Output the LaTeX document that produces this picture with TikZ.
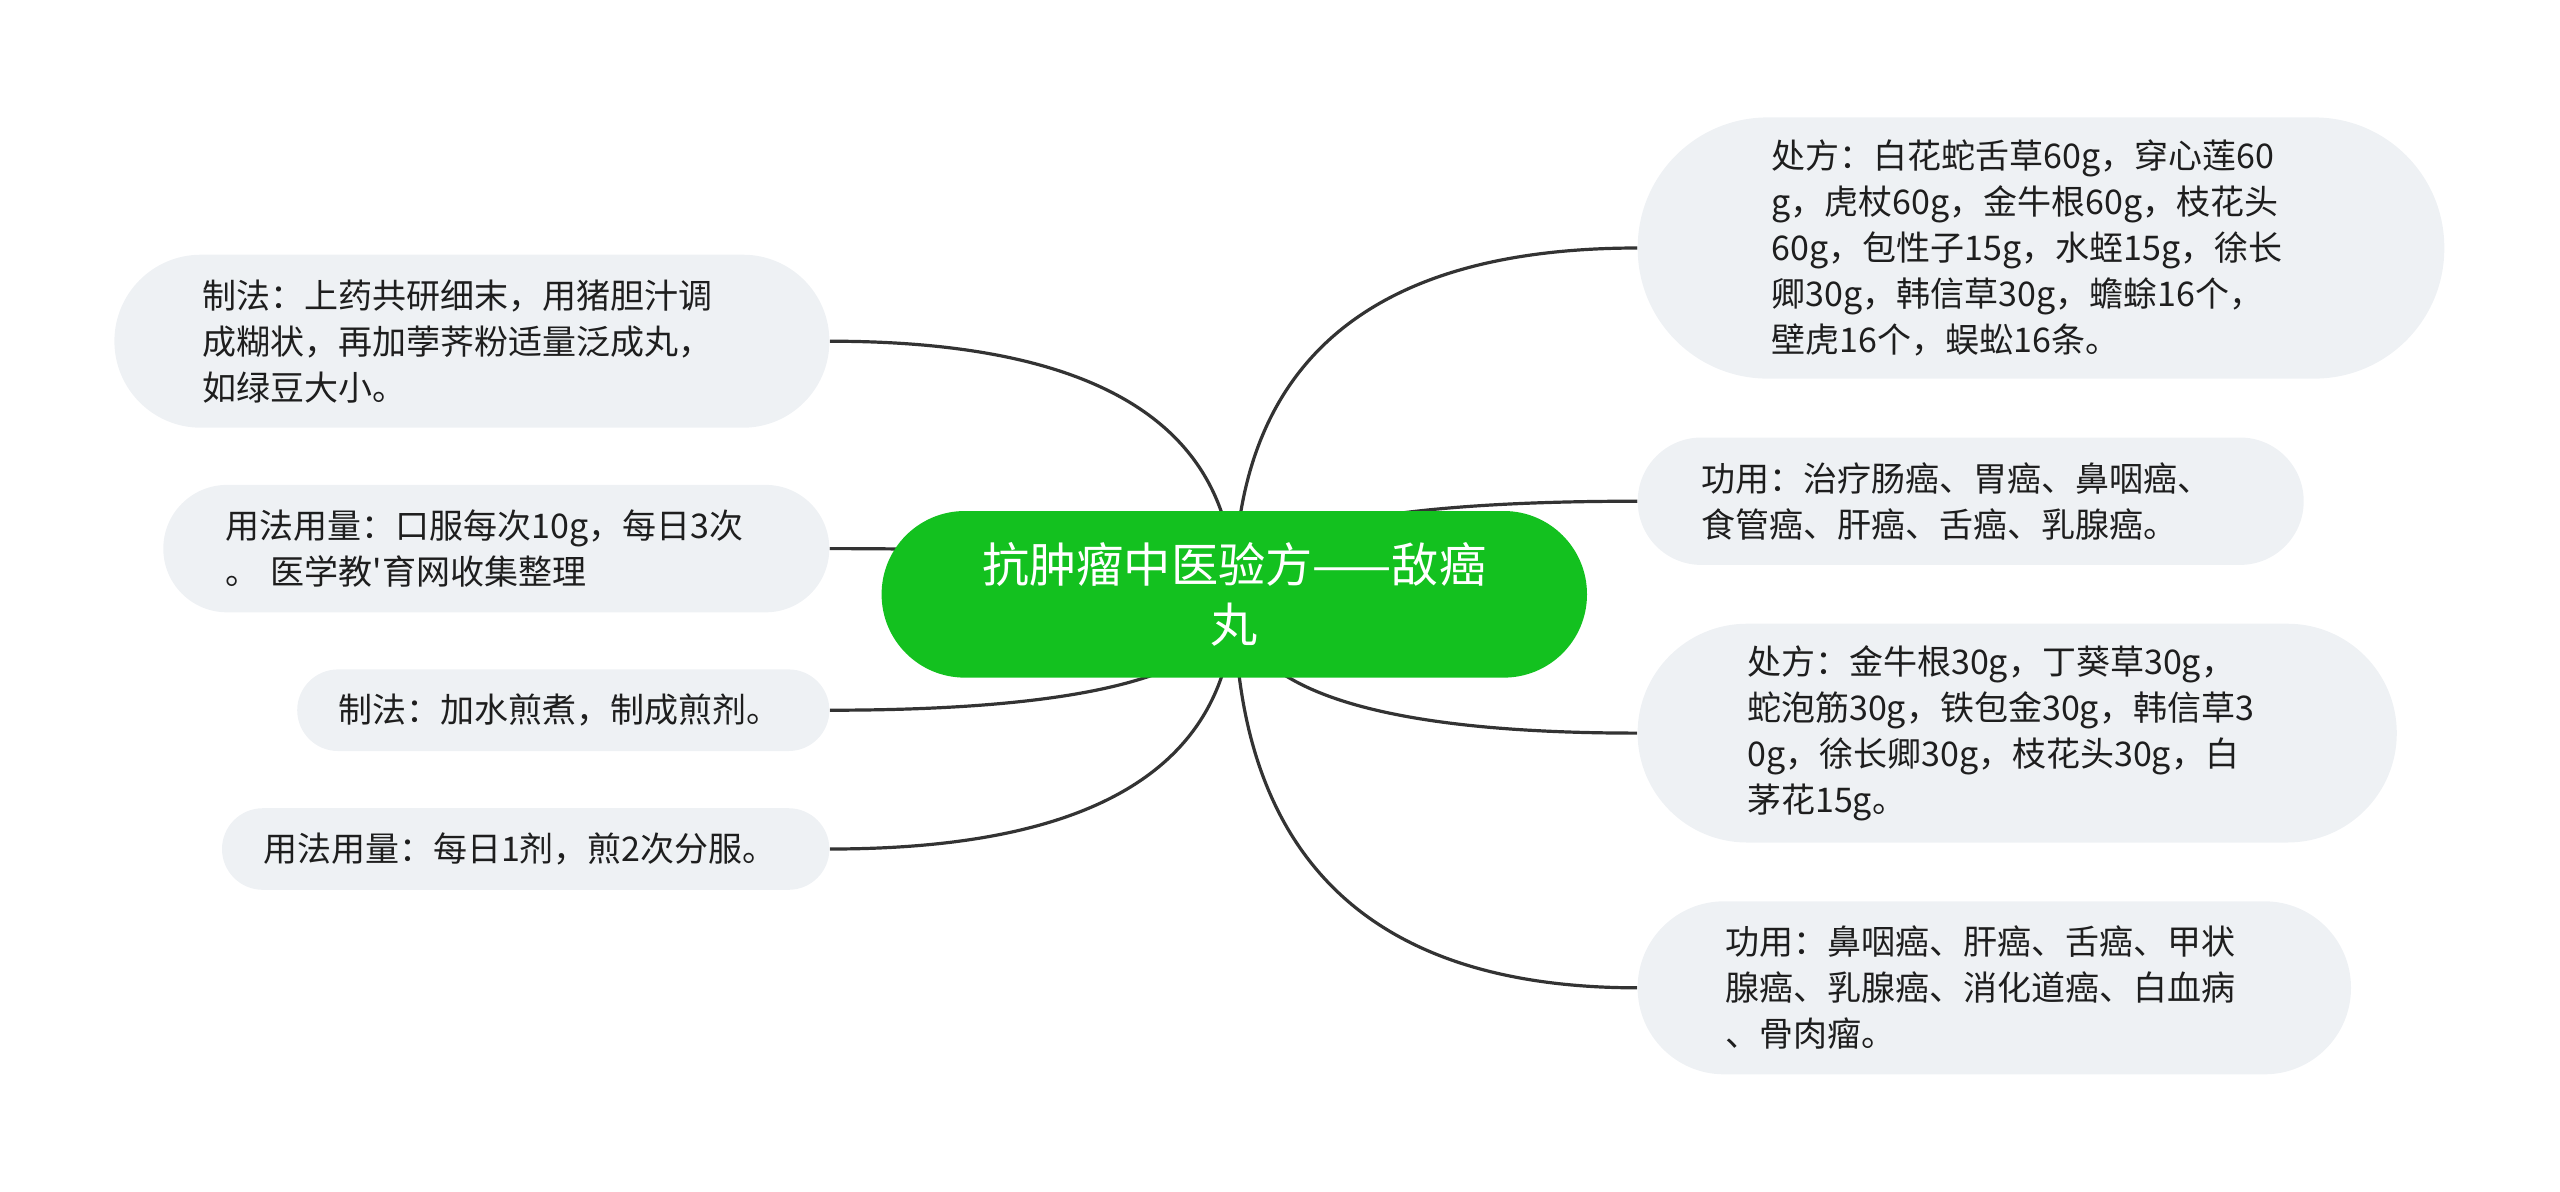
\documentclass[tikz,border=0pt]{standalone}
\usepackage{fontspec}
\usepackage{tikz}
\usetikzlibrary{calc,backgrounds}
\newfontfamily\cjk{Noto Sans CJK SC}
\definecolor{rootgreen}{HTML}{13C11F}
\definecolor{leafgray}{HTML}{EEF1F4}
\definecolor{linegray}{HTML}{333333}
\definecolor{textgray}{HTML}{1E1E1E}

\begin{document}
\begin{tikzpicture}[x=0.5pt, y=-0.5pt,
  root/.style = {fill=rootgreen, text=white, align=center, font=\cjk\fontsize{23.6}{30}\selectfont, minimum width=352.7pt, minimum height=83.3pt, rounded corners=41.6pt, inner sep=0pt},
  leaf/.style = {fill=leafgray, text=textgray, align=left, font=\cjk\fontsize{17}{23}\selectfont, inner ysep=0pt},
  link/.style = {draw=linegray, line width=1.6pt}]
\useasboundingbox (0,0) rectangle (2560,1191);
\node[root] (0) at (1234.3,594.3) {抗肿瘤中医验方——敌癌\\丸};
\node[leaf, minimum width=403.3pt, minimum height=130.6pt, inner xsep=67pt, text width=269.3pt, rounded corners=65pt] (1) at (2041,248) {处方：白花蛇舌草60g，穿心莲60\\g，虎杖60g，金牛根60g，枝花头\\60g，包性子15g，水蛭15g，徐长\\卿30g，韩信草30g，蟾蜍16个，\\壁虎16个，蜈蚣16条。};
\node[leaf, minimum width=333pt, minimum height=63.7pt, inner xsep=31.7pt, text width=269.6pt, rounded corners=31.8pt] (2) at (1970.7,501.2) {功用：治疗肠癌、胃癌、鼻咽癌、\\食管癌、肝癌、舌癌、乳腺癌。};
\node[leaf, minimum width=379.6pt, minimum height=109.4pt, inner xsep=54.8pt, text width=270pt, rounded corners=54.7pt] (3) at (2017.2,733.1) {处方：金牛根30g，丁葵草30g，\\蛇泡筋30g，铁包金30g，韩信草3\\0g，徐长卿30g，枝花头30g，白\\茅花15g。};
\node[leaf, minimum width=356.7pt, minimum height=86.5pt, inner xsep=44pt, text width=268.7pt, rounded corners=43.2pt] (4) at (1994.3,987.8) {功用：鼻咽癌、肝癌、舌癌、甲状\\腺癌、乳腺癌、消化道癌、白血病\\、骨肉瘤。};
\node[leaf, minimum width=357.5pt, minimum height=86.5pt, inner xsep=44pt, text width=269.5pt, rounded corners=43.2pt] (5) at (471.9,341.2) {制法：上药共研细末，用猪胆汁调\\成糊状，再加荸荠粉适量泛成丸，\\如绿豆大小。};
\node[leaf, minimum width=333pt, minimum height=63.7pt, inner xsep=31pt, text width=271pt, rounded corners=31.8pt] (6) at (496.3,548.6) {用法用量：口服每次10g，每日3次\\。 医学教'育网收集整理};
\node[leaf, minimum width=266.1pt, minimum height=40.8pt, inner xsep=20.4pt, text width=225.3pt, rounded corners=20.4pt] (7) at (563.3,710.2) {制法：加水煎煮，制成煎剂。};
\node[leaf, minimum width=303.7pt, minimum height=40.8pt, inner xsep=20.5pt, text width=262.7pt, rounded corners=20.4pt] (8) at (525.7,849) {用法用量：每日1剂，煎2次分服。};
\begin{scope}[on background layer]
\foreach \n in {1,...,4}
  \draw[link] (0.center) .. controls ($(0.center)!2/3!(0.center|-\n.west)$) and ($(\n.west)!2/3!(0.center|-\n.west)$) .. (\n.west);
\foreach \n in {5,...,8}
  \draw[link] (0.center) .. controls ($(0.center)!2/3!(0.center|-\n.east)$) and ($(\n.east)!2/3!(0.center|-\n.east)$) .. (\n.east);
\end{scope}
\end{tikzpicture}
\end{document}
